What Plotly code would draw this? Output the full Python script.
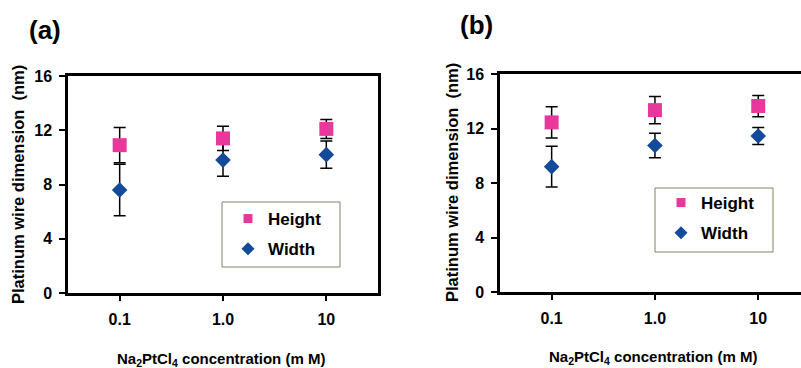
import plotly.graph_objects as go

# ---- data ----
conc = ["0.1", "1.0", "10"]

a_height = [10.9, 11.4, 12.1]
a_height_err = [1.3, 0.9, 0.7]
a_width = [7.6, 9.8, 10.2]
a_width_err = [1.9, 1.2, 1.0]

b_height = [12.45, 13.35, 13.65]
b_height_err = [1.15, 1.0, 0.78]
b_width = [9.2, 10.75, 11.45]
b_width_err = [1.5, 0.9, 0.63]

y_ticks = [0, 4, 8, 12, 16]

PINK = "#E8389B"
BLUE = "#134A9B"
FONT = "Arial, Liberation Sans, sans-serif"
W, H = 801, 368

def px(x):
    return x / W

def py(y):
    return 1 - y / H

fig = go.Figure()

def add_panel(xa, ya, height, herr, width, werr, legend):
    fig.add_trace(go.Scatter(
        x=conc, y=width, xaxis=xa, yaxis=ya, mode="markers",
        marker=dict(symbol="diamond", size=12, color=BLUE),
        error_y=dict(type="data", array=werr, color="black", thickness=1.5, width=6),
        showlegend=False))
    fig.add_trace(go.Scatter(
        x=conc, y=height, xaxis=xa, yaxis=ya, mode="markers",
        marker=dict(symbol="square", size=14, color=PINK),
        error_y=dict(type="data", array=herr, color="black", thickness=1.5, width=6),
        showlegend=False))
    # legend entries
    fig.add_trace(go.Scatter(
        x=[None], y=[None], xaxis=xa, yaxis=ya, mode="markers", name="Height",
        marker=dict(symbol="square", size=9, color=PINK),
        legend=legend, legendgroup=legend + "h"))
    fig.add_trace(go.Scatter(
        x=[None], y=[None], xaxis=xa, yaxis=ya, mode="markers", name="Width",
        marker=dict(symbol="diamond", size=10, color=BLUE),
        legend=legend, legendgroup=legend + "w"))

add_panel("x", "y", a_height, a_height_err, a_width, a_width_err, "legend")
add_panel("x2", "y2", b_height, b_height_err, b_width, b_width_err, "legend2")

tickfont = dict(family=FONT, size=16, color="black", weight="bold")

def xaxis(domain, rng, anchor):
    return dict(domain=domain, range=rng, type="category", anchor=anchor,
                showline=True, linewidth=2.5, linecolor="black", mirror=True,
                ticks="outside", ticklen=5, tickwidth=2, tickcolor="black",
                showgrid=False, zeroline=False, tickfont=tickfont,
                ticklabelstandoff=5, automargin=False)

def yaxis(domain, anchor, mirror):
    return dict(domain=domain, range=[0, 16], tickvals=y_ticks, anchor=anchor,
                showline=True, linewidth=2.5, linecolor="black", mirror=mirror,
                ticks="outside", ticklen=6, tickwidth=2, tickcolor="black",
                showgrid=False, zeroline=False, tickfont=tickfont,
                ticklabelstandoff=4, automargin=False)

legfont = dict(family=FONT, size=17, color="black", weight="bold")

fig.update_layout(
    width=W, height=H, autosize=False,
    margin=dict(l=0, r=0, t=0, b=0, pad=0, autoexpand=False),
    paper_bgcolor="white", plot_bgcolor="white",
    xaxis=xaxis([px(68), px(378)], [-0.5, 2.5], "y"),
    yaxis=yaxis([py(293), py(76)], "x", True),
    xaxis2=xaxis([px(500), 1.0], [-0.5, 2.414], "y2"),
    yaxis2=yaxis([py(292), py(74)], "x2", False),
    legend=dict(x=px(228), y=py(201), xanchor="left", yanchor="top",
                bgcolor="rgba(0,0,0,0)", borderwidth=0, font=legfont,
                tracegroupgap=5),
    legend2=dict(x=px(661), y=py(185), xanchor="left", yanchor="top",
                 bgcolor="rgba(0,0,0,0)", borderwidth=0, font=legfont,
                 tracegroupgap=5),
    shapes=[
        dict(type="rect", xref="paper", yref="paper",
             x0=px(222), x1=px(340), y0=py(267), y1=py(202),
             line=dict(color="#8C7A6B", width=1), fillcolor="white", layer="below"),
        dict(type="rect", xref="paper", yref="paper",
             x0=px(655), x1=px(773), y0=py(252), y1=py(188),
             line=dict(color="#8C7A6B", width=1), fillcolor="white", layer="below"),
    ],
)

titlefont = dict(family=FONT, size=15, color="black", weight="bold")
ytitlefont = dict(family=FONT, size=16.5, color="black", weight="bold")
xtitle = "Na<sub>2</sub>PtCl<sub>4</sub> concentration (m M)"
ytitle = "Platinum wire dimension  (nm)"

def ann(text, x, y, font, angle=0):
    fig.add_annotation(text=text, x=px(x), y=py(y), xref="paper", yref="paper",
                       xanchor="center", yanchor="middle", textangle=angle,
                       showarrow=False, font=font)

bigfont = dict(family=FONT, size=26, color="black", weight="bold")
ann("(a)", 45, 30, bigfont)
ann("(b)", 476, 25, bigfont)
ann(xtitle, 221, 359, titlefont)
ann(xtitle, 653, 357, titlefont)
ann(ytitle, 18, 185, ytitlefont, -90)
ann(ytitle, 452, 183, ytitlefont, -90)

fig.write_html("out.html", config={"displayModeBar": False},
               post_script="document.body.style.margin='0';document.body.style.overflow='hidden';")
